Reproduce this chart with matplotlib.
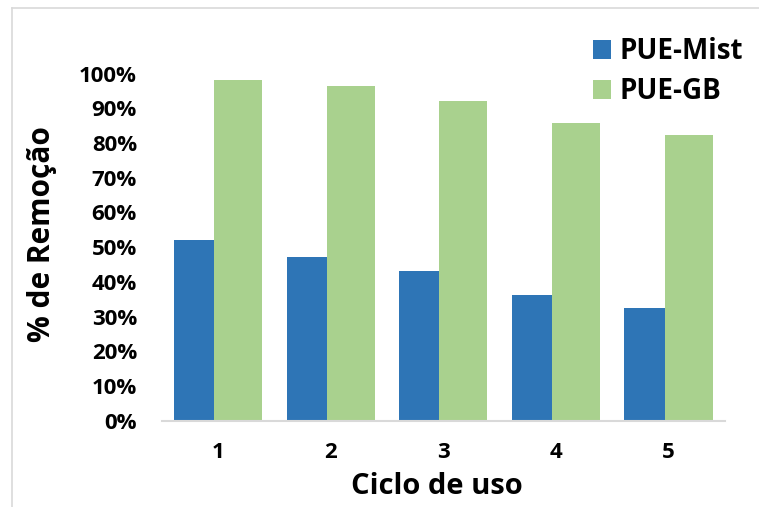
import matplotlib
matplotlib.use("Agg")
import matplotlib.pyplot as plt
import numpy as np
from matplotlib.lines import Line2D

categories = ["1", "2", "3", "4", "5"]
pue_mist = [52.1, 47.3, 43.2, 36.2, 32.4]
pue_gb = [98.3, 96.4, 92.1, 85.8, 82.2]
series_names = ["PUE-Mist", "PUE-GB"]
yticks = [0, 10, 20, 30, 40, 50, 60, 70, 80, 90, 100]
ytick_labels = [f"{v}%" for v in yticks]

W, H = 759, 507
fig = plt.figure(figsize=(W / 100, H / 100), dpi=100)
plt.rcParams['font.family'] = ['Open Sans', 'DejaVu Sans']

ax_l, ax_r = 162 / W, 725 / W
ax_b = 1 - 420.7 / H
ax_t = 1 - 73.7 / H
ax = fig.add_axes([ax_l, ax_b, ax_r - ax_l, ax_t - ax_b])

x = np.arange(len(categories))
blue = "#2E75B6"
green = "#A9D18E"
ax.bar(x - 0.393, pue_mist, 0.358, align='edge', color=blue, label=series_names[0], zorder=2)
ax.bar(x - 0.036, pue_gb, 0.426, align='edge', color=green, label=series_names[1], zorder=2)

ax.set_xlim(-0.5, len(categories) - 0.5)
ax.set_ylim(0, 100)
ax.set_yticks(yticks)
ax.set_yticklabels(ytick_labels, fontsize=16, fontweight='bold')
ax.set_xticks(x)
ax.set_xticklabels(categories, fontsize=16, fontweight='bold')
ax.tick_params(axis='both', length=0)
ax.tick_params(axis='y', pad=18)
ax.tick_params(axis='x', pad=15)
for s in ['top', 'right', 'left']:
    ax.spines[s].set_visible(False)
ax.spines['bottom'].set_color('#d9d9d9')
ax.spines['bottom'].set_linewidth(1.5)

fig.text(42 / W, 1 - 234 / H, "% de Remoção", rotation=90, ha='center', va='center',
         fontsize=21.5, fontweight='bold')
fig.text(437 / W, 1 - 486 / H, "Ciclo de uso", ha='center', va='center',
         fontsize=21, fontweight='bold')

leg = fig.legend(loc='upper left', bbox_to_anchor=(593 / W, 1 - 37 / H), frameon=False,
                 prop={'size': 20, 'weight': 'bold'}, handlelength=0.65, handleheight=0.65,
                 handletextpad=0.32, labelspacing=0.4, borderaxespad=0, borderpad=0)

# outer chart frame (partially cropped)
fig.add_artist(Line2D([12 / W, 1], [1 - 8 / H, 1 - 8 / H], color='#d9d9d9', lw=1.2,
                      transform=fig.transFigure))
fig.add_artist(Line2D([12 / W, 12 / W], [0, 1 - 8 / H], color='#d9d9d9', lw=1.2,
                      transform=fig.transFigure))

fig.savefig("out.png", dpi=100)
